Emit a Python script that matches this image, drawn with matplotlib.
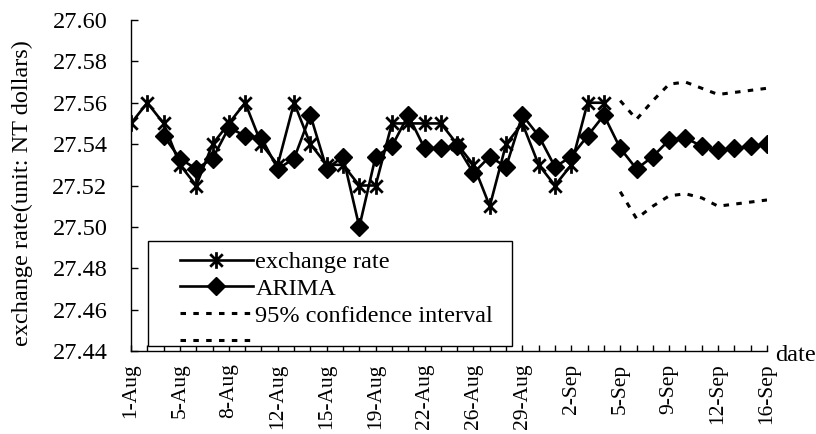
import numpy as np
import matplotlib.pyplot as plt
from matplotlib.path import Path
from matplotlib.patches import Rectangle

plt.rcParams['font.family'] = ['Liberation Serif', 'DejaVu Serif']

# ---- data (one category per trading day, 40 in all)
date_labels = ['1-Aug', '5-Aug', '8-Aug', '12-Aug', '15-Aug', '19-Aug', '22-Aug',
               '26-Aug', '29-Aug', '2-Sep', '5-Sep', '9-Sep', '12-Sep', '16-Sep']

exchange_rate = [27.55, 27.56, 27.55, 27.53, 27.52, 27.54, 27.55, 27.56, 27.54, 27.53,
                 27.56, 27.54, 27.53, 27.53, 27.52, 27.52, 27.55, 27.55, 27.55, 27.55,
                 27.54, 27.53, 27.51, 27.54, 27.55, 27.53, 27.52, 27.53, 27.56, 27.56]

# ARIMA fit starts on the 3rd day, forecast runs to the last day
arima = [27.544, 27.533, 27.528, 27.533, 27.548, 27.544, 27.543, 27.528,
         27.533, 27.554, 27.528, 27.534, 27.500, 27.534, 27.539, 27.554,
         27.538, 27.538, 27.539, 27.526, 27.534, 27.529, 27.554, 27.544,
         27.529, 27.534, 27.544, 27.554, 27.538, 27.528, 27.534, 27.542,
         27.543, 27.539, 27.537, 27.538, 27.539, 27.540]

ci_upper = [27.561, 27.552, 27.561, 27.569, 27.570, 27.567, 27.564, 27.565, 27.566, 27.567]
ci_lower = [27.517, 27.504, 27.510, 27.515, 27.516, 27.514, 27.510, 27.511, 27.512, 27.513]

n_days = 40
arima_start = 2
forecast_start = 30

x_rate = np.arange(len(exchange_rate))
x_arima = np.arange(arima_start, arima_start + len(arima))
x_ci = np.arange(forecast_start, forecast_start + len(ci_upper))

W, H = 816, 434
FS = 17.5
fig = plt.figure(figsize=(W / 100, H / 100), dpi=100)
ax = fig.add_axes([131 / W, 1 - 351 / H, (767 - 131) / W, (351 - 20) / H])

# excel-like star marker: an x with a vertical bar
star = Path([(0, -1), (0, 1), (-0.75, -0.75), (0.75, 0.75), (-0.75, 0.75), (0.75, -0.75)],
            [Path.MOVETO, Path.LINETO] * 3)

h_rate, = ax.plot(x_rate, exchange_rate, color='black', lw=1.9,
                  marker=star, ms=12, mew=2)
h_arima, = ax.plot(x_arima, arima, color='black', lw=1.9, marker='D', ms=9.5)
h_up, = ax.plot(x_ci, ci_upper, color='black', lw=2.2, ls=(0, (1.8, 2.4)))
h_lo, = ax.plot(x_ci, ci_lower, color='black', lw=2.2, ls=(0, (1.8, 2.4)))

ax.set_xlim(0, n_days - 1)
ax.set_ylim(27.44, 27.60)
yt = np.arange(27.44, 27.601, 0.02)
ax.set_yticks(yt)
ax.set_yticklabels(['%.2f' % v for v in yt], fontsize=FS)
ax.set_xticks(np.arange(n_days), minor=True)
ax.set_xticks(np.arange(0, n_days, 3))
ax.set_xticklabels(date_labels, rotation=90, fontsize=15.5)

for s in ['top', 'right']:
    ax.spines[s].set_visible(False)
for s in ['left', 'bottom']:
    ax.spines[s].set_linewidth(1.0)
ax.tick_params(axis='y', direction='in', length=5, width=1, pad=17)
ax.tick_params(axis='x', which='both', direction='in', length=4, width=1, pad=9)

ax.text(1.013, -0.015, 'date', transform=ax.transAxes, ha='left', va='center', fontsize=FS)
fig.text(22 / W, 1 - 193 / H, 'exchange rate(unit: NT dollars)', rotation=90,
         ha='center', va='center', fontsize=FS)

# legend box
fig.add_artist(Rectangle((147.7 / W, 1 - 346 / H), (512 - 147.7) / W, (346 - 241) / H,
                         transform=fig.transFigure, facecolor='white',
                         edgecolor='black', lw=1, zorder=3))
fig.legend([h_rate, h_arima, h_up, h_lo],
           ['exchange rate', 'ARIMA', '95% confidence interval', ''],
           loc='upper left', bbox_to_anchor=(180 / W, 1 - 251 / H),
           frameon=False, fontsize=FS, handlelength=3.0, handletextpad=0.1,
           labelspacing=0.2, borderpad=0, borderaxespad=0).set_zorder(4)

fig.savefig('out.png', dpi=100)
